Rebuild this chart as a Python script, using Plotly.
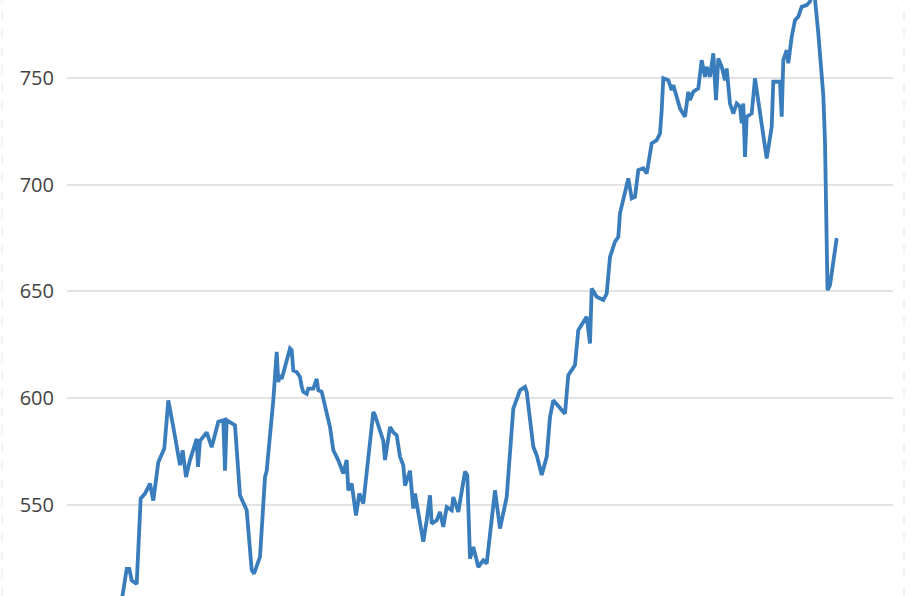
import plotly.graph_objects as go

# trading-day index and closing values
day = [
    0, 5.7, 8.3, 10.7, 15.7, 19.7, 24, 29, 32.3, 37.3,
    43.3, 47.3, 52.3, 59, 61.7, 65, 69, 75.7, 77, 79,
    85.7, 90.7, 97.3, 102.3, 104, 105.7, 114, 115.7, 119, 125.7,
    130.7, 133, 139, 144, 145.7, 152.3, 155.7, 157.3, 159, 160.7,
    164, 169, 170.7, 172.3, 175.7, 179, 180.7, 182.3, 185.7, 187.3,
    192.3, 195.7, 197.3, 200.7, 209, 212.3, 217.3, 222.3, 225.7, 227.3,
    230.7, 235, 238.3, 242.3, 252.3, 254, 262.3, 264, 269, 272.3,
    275.7, 279, 282.3, 284, 289, 292.3, 294, 302.3, 305.7, 309,
    310.7, 315.7, 319, 322.3, 325.7, 330.7, 332.3, 337.3, 344, 346.3,
    349, 352.3, 357.3, 362.3, 365.7, 374, 379, 385.7, 392.3, 399,
    404, 405.7, 412.3, 415.7, 420.7, 425.7, 429, 432.3, 442.3, 444,
    447.3, 454, 457.3, 465.7, 469, 470.7, 475.7, 482.3, 485.7, 489,
    494, 497.3, 499, 504, 507.3, 510.7, 514, 517.3, 522.3, 525.7,
    527.3, 530.7, 535.7, 539, 540.7, 542.3, 547.3, 550.7, 552.3, 555.7,
    559, 564, 567.3, 569, 572.3, 577.3, 580.7, 584, 585.7, 589,
    592.3, 595, 597.3, 600.7, 604, 605.7, 609, 612.3, 615.7, 619,
    620.7, 622.3, 624, 625.7, 630.7, 634, 639, 645.7, 650.7, 652.3,
    659, 660.7, 662.3, 665.7, 667.3, 670.7, 674, 677.3, 679, 680.7,
    685.7, 689, 691.5, 694, 697.3, 700.7, 702.3, 704, 705.5, 706.5,
    709, 712, 715.7,
]
price = [
    503, 520, 520, 514.6, 513, 553, 555.3, 560, 552, 570,
    576.4, 599, 586.5, 568.6, 575.6, 563, 571, 581, 567.8, 580,
    584, 577, 589, 589.7, 566, 589.7, 587.3, 575.6, 554.5, 547.5,
    519.4, 517.8, 525.6, 563, 566, 599, 621.7, 607.6, 610.8, 609,
    614.7, 623.3, 622.5, 613, 612.3, 610, 605.3, 603, 602, 604.5,
    604.5, 609, 603.7, 603, 586.5, 575.6, 570.9, 564.7, 571, 556.8,
    560, 545, 555.3, 550.6, 593.6, 592, 580, 571, 586.5, 584,
    582.6, 572.5, 568.6, 559, 566, 548.3, 555.3, 532.7, 542.8, 554.5,
    541.2, 542.8, 546.7, 539.7, 549, 547.5, 553.7, 546.7, 565.6, 563.9,
    524.8, 530.3, 520.9, 524, 522.5, 556.8, 538.9, 553.7, 595.1, 603.7,
    605.3, 603, 577.2, 573.3, 564, 572.5, 591.2, 599, 593.6, 592.8,
    610.8, 615.5, 631.9, 638.2, 625.6, 651.4, 647.5, 646, 649, 666.2,
    673.3, 675.6, 686.6, 696, 703, 693.6, 694.4, 706.9, 707.7, 705.3,
    710, 719.4, 720.9, 724, 735, 749.9, 749, 744.4, 746.7, 741.3,
    735.8, 731.9, 743.6, 739.7, 743.6, 745.2, 758.4, 750.6, 755.3, 750.6,
    761.6, 739.7, 759.2, 755.3, 749, 754.5, 738.1, 733.4, 738.1, 736.6,
    728.8, 738.1, 713.1, 731.9, 733.4, 749.9, 735, 712.3, 727.2, 748.3,
    748.3, 731.9, 758.4, 763.1, 756.9, 769.4, 777.2, 778.8, 781.1, 783.4,
    784.2, 785.8, 792, 787, 771, 752, 742, 720, 680, 650.6,
    653, 662, 675,
]
y_ticks = [550, 600, 650, 700, 750]

fig = go.Figure()
fig.add_trace(go.Scatter(
    x=day, y=price, mode="lines",
    line=dict(color="#3a7dbd", width=3.8),
    hoverinfo="x+y",
))

fig.update_layout(
    width=910, height=596,
    margin=dict(l=67, r=17, t=0, b=0),
    paper_bgcolor="white", plot_bgcolor="white",
    showlegend=False,
    font=dict(family="Open Sans, sans-serif", size=20, color="#444"),
    xaxis=dict(range=[-54, 772], visible=False, showgrid=False, zeroline=False),
    yaxis=dict(
        range=[507.3, 786.6],
        tickvals=y_ticks,
        ticktext=[str(v) for v in y_ticks],
        showgrid=True, gridcolor="#e3e3e3", gridwidth=2,
        zeroline=False, showline=False, ticks="",
        ticklabelstandoff=12,
        tickfont=dict(size=20, color="#444"),
    ),
    shapes=[
        dict(type="line", xref="paper", yref="paper", x0=-0.0787, x1=-0.0787, y0=0, y1=1,
             line=dict(color="#eeeeee", width=1.5, dash="dash")),
        dict(type="line", xref="paper", yref="paper", x0=1.0133, x1=1.0133, y0=0, y1=1,
             line=dict(color="#eeeeee", width=1.5, dash="dash")),
    ],
)

fig.write_html(
    "out.html",
    config={"displayModeBar": False},
    post_script="document.body.style.margin='0';document.body.style.overflow='hidden';",
)
